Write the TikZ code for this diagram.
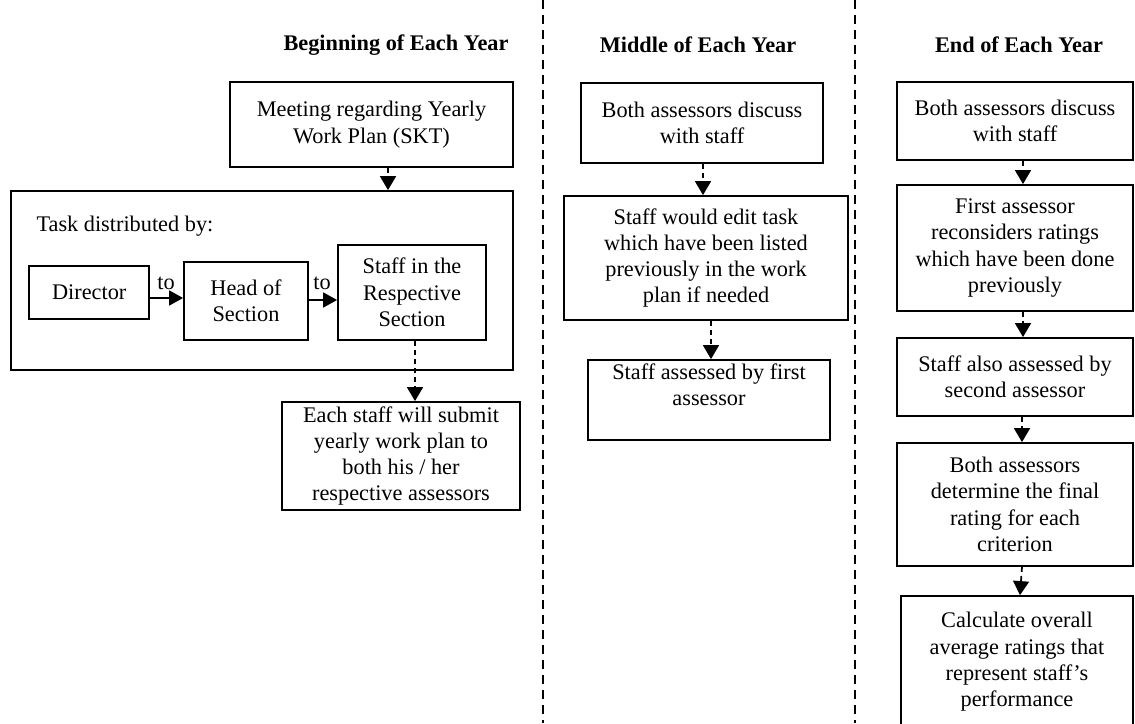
\documentclass[tikz,border=0pt]{standalone}
\usepackage{fontspec}
\setmainfont{Liberation Serif}
\usetikzlibrary{arrows.meta}
\begin{document}
\begin{tikzpicture}[x=1pt,y=-1pt,
  box/.style={draw,line width=1.8pt,rectangle,align=center,inner sep=2pt,font=\fontsize{22.3}{26.3}\selectfont},
  lbl/.style={font=\fontsize{22.3}{26}\selectfont},
  hdr/.style={font=\fontsize{22.3}{26}\selectfont\bfseries},
  conn/.style={line width=1.7pt,dash pattern=on 5pt off 4pt,-{Triangle[width=16pt,length=14pt]}},
  harrow/.style={line width=1.7pt,-{Triangle[width=15pt,length=14pt]}},
  divider/.style={line width=1.4pt,dash pattern=on 9pt off 6pt}]
\useasboundingbox[fill=white] (0,0) rectangle (1135,723);
% dividers
\coordinate (d1t) at (543,0); \coordinate (d1b) at (543,723);
\coordinate (d2t) at (855,0); \coordinate (d2b) at (855,723);
\draw[divider] (d1t) -- (d1b);
\draw[divider] (d2t) -- (d2b);
% headers
\node[hdr] (h1) at (396,45) {Beginning of Each Year};
\node[hdr] (h2) at (698,45) {Middle of Each Year};
\node[hdr] (h3) at (1019,45) {End of Each Year};
% beginning column
\node[box,minimum width=283pt,minimum height=85pt] (m1) at (371.5,124.5) {Meeting regarding Yearly\\Work Plan (SKT)};
\node[box,minimum width=502pt,minimum height=179pt] (big) at (262,280.5) {};
\node[lbl,anchor=west] (task) at (33,226) {Task distributed by:};
\node[box,minimum width=120pt,minimum height=53pt] (dir) at (89.2,292.2) {Director};
\node[box,minimum width=124pt,minimum height=78pt] (head) at (246,301) {Head of\\Section};
\node[box,minimum width=148pt,minimum height=95pt] (ss) at (412,292.5) {Staff in the\\Respective\\Section};
\node[box,minimum width=238pt,minimum height=108pt] (each) at (401,456) {Each staff will submit\\yearly work plan to\\both his / her\\respective assessors};
\node[lbl] (to1) at (166,283) {to};
\node[lbl] (to2) at (322,283) {to};
\draw[harrow] (dir.east |- 0,298) -- (head.west |- 0,298);
\draw[harrow] (head.east |- 0,300) -- (ss.west |- 0,300);
\draw[conn] ([xshift=16.5pt]m1.south) -- ([xshift=16.5pt]m1.south |- big.north);
\draw[conn] ([xshift=3pt]ss.south) -- ([xshift=3pt]ss.south |- each.north);
% middle column
\node[box,minimum width=242pt,minimum height=80pt] (mid1) at (702,123) {Both assessors discuss\\with staff};
\node[box,minimum width=284pt,minimum height=124pt] (mid2) at (706,258) {Staff would edit task\\which have been listed\\previously in the work\\plan if needed};
\node[box,minimum width=242pt,minimum height=80pt] (mid3) at (709,400) {Staff assessed by first\\assessor\\[4pt]};
\draw[conn] ([xshift=1pt]mid1.south) -- ([xshift=1pt]mid1.south |- mid2.north);
\draw[conn] ([xshift=5pt]mid2.south) -- ([xshift=5pt]mid2.south |- mid3.north);
% end column
\node[box,minimum width=236pt,minimum height=78pt] (e1) at (1015,121) {Both assessors discuss\\with staff};
\node[box,minimum width=236pt,minimum height=126pt] (e2) at (1015,248) {First assessor\\reconsiders ratings\\which have been done\\previously};
\node[box,minimum width=236pt,minimum height=78pt] (e3) at (1015,377) {Staff also assessed by\\second assessor};
\node[box,minimum width=236pt,minimum height=123pt] (e4) at (1015,504.5) {Both assessors\\determine the final\\rating for each\\criterion};
\node[box,minimum width=232pt,minimum height=132pt] (e5) at (1017,662) {Calculate overall\\average ratings that\\represent staff's\\performance};
\draw[conn] ([xshift=8pt]e1.south) -- ([xshift=8pt]e1.south |- e2.north);
\draw[conn] ([xshift=8pt]e2.south) -- ([xshift=8pt]e2.south |- e3.north);
\draw[conn] ([xshift=7pt]e3.south) -- ([xshift=7pt]e3.south |- e4.north);
\draw[conn] ([xshift=7pt]e4.south) -- ([xshift=5pt]e4.south |- e5.north);
\end{tikzpicture}
\end{document}
